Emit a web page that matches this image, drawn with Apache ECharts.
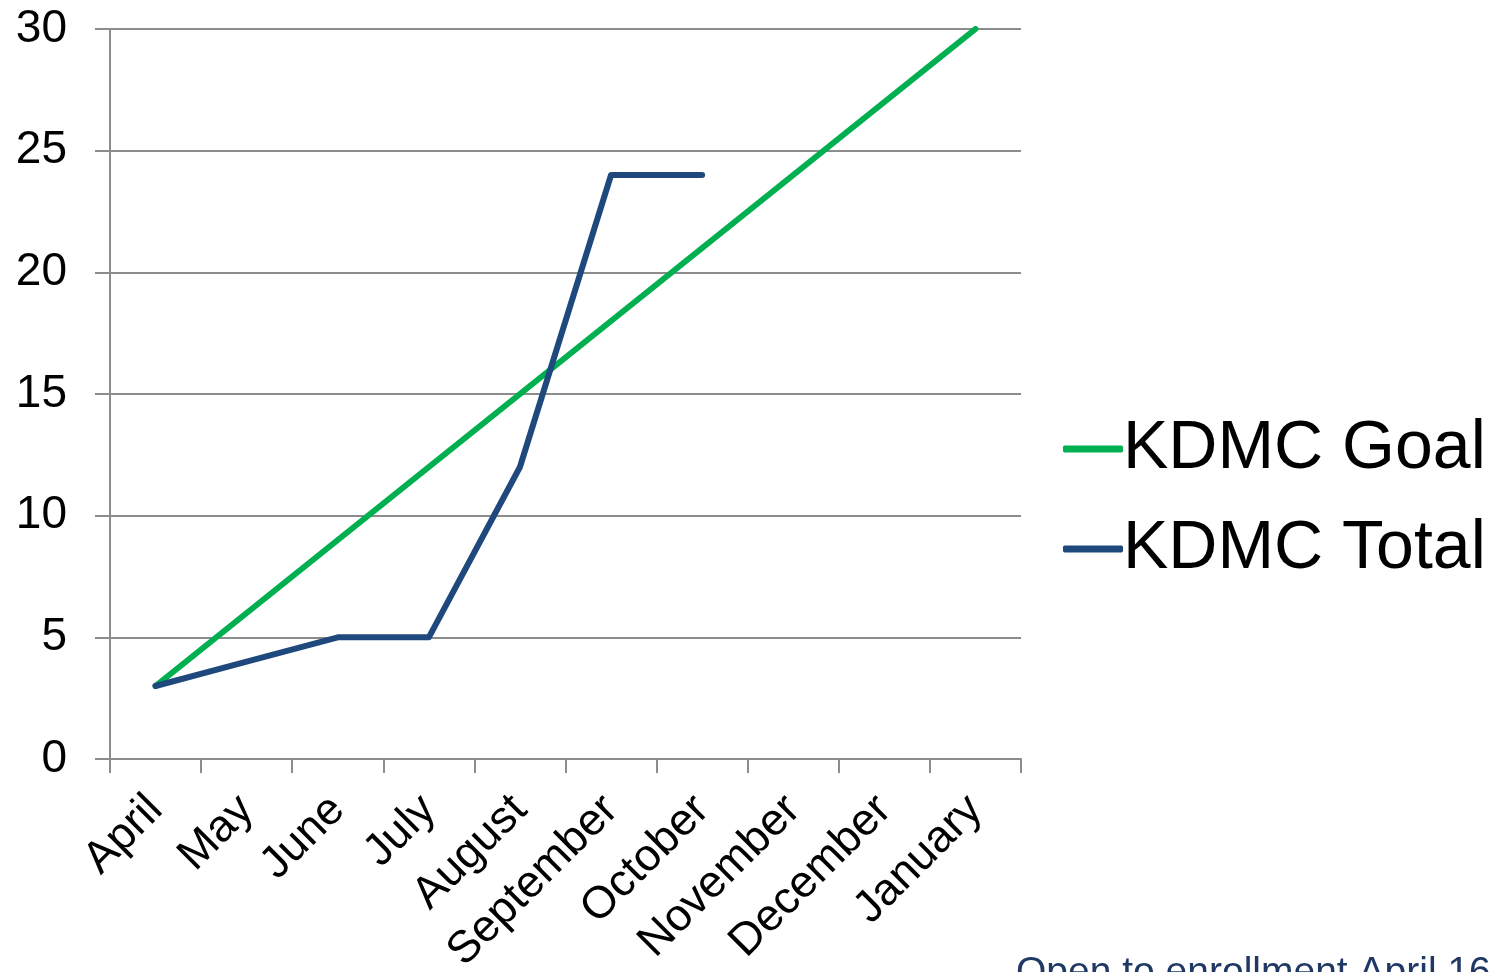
<!DOCTYPE html>
<html>
<head>
<meta charset="utf-8">
<script src="https://cdn.jsdelivr.net/npm/echarts@6/dist/echarts.min.js"></script>
<style>
  html, body { margin: 0; padding: 0; background: #ffffff; }
  #chart { width: 1500px; height: 972px; }
</style>
</head>
<body>
<div id="chart"></div>
<script>
// Monthly enrollment: goal versus running total
const months = ['April', 'May', 'June', 'July', 'August', 'September', 'October', 'November', 'December', 'January'];
const goalValues = [3, 6, 9, 12, 15, 18, 21, 24, 27, 30];
const totalValues = [3, 4, 5, 5, 12, 24, 24];
const yTicks = [0, 5, 10, 15, 20, 25, 30];

const FONT = '"Liberation Sans", Arial, sans-serif';
const chart = echarts.init(document.getElementById('chart'), null, { renderer: 'canvas' });

chart.setOption({
  backgroundColor: '#ffffff',
  animation: false,
  grid: { left: 110, right: 479, top: 29, bottom: 213, containLabel: false, outerBoundsMode: 'none' },
  legend: {
    orient: 'vertical',
    left: 1058,
    top: 410,
    itemWidth: 60,
    itemHeight: 7,
    itemGap: 32,
    icon: 'roundRect',
    textStyle: { fontFamily: FONT, fontSize: 68, color: '#000000', padding: [0, 0, 0, -5] },
    data: ['KDMC Goal', 'KDMC Total']
  },
  xAxis: {
    type: 'category',
    data: months,
    boundaryGap: true,
    axisLine: { lineStyle: { color: '#8c8c8c', width: 2 } },
    axisTick: { show: true, length: 14, lineStyle: { color: '#8c8c8c', width: 2 } },
    axisLabel: { rotate: 45, fontFamily: FONT, fontSize: 45, color: '#000000', margin: 44 },
    splitLine: { show: false }
  },
  yAxis: {
    type: 'value',
    min: yTicks[0],
    max: yTicks[yTicks.length - 1],
    interval: 5,
    axisLine: { show: true, lineStyle: { color: '#8c8c8c', width: 2 } },
    axisTick: { show: true, length: 15, lineStyle: { color: '#8c8c8c', width: 2 } },
    axisLabel: { fontFamily: FONT, fontSize: 46, color: '#000000', margin: 43 },
    splitLine: { show: true, lineStyle: { color: '#8c8c8c', width: 2 } }
  },
  series: [
    {
      name: 'KDMC Goal',
      type: 'line',
      data: goalValues,
      symbol: 'none',
      color: '#00b050',
      lineStyle: { color: '#00b050', width: 6, cap: 'round' }
    },
    {
      name: 'KDMC Total',
      type: 'line',
      data: totalValues,
      symbol: 'none',
      color: '#1f497d',
      lineStyle: { color: '#1f497d', width: 6, cap: 'round', join: 'round' }
    }
  ],
  graphic: [
    {
      type: 'text',
      left: 1016,
      top: 954,
      style: { text: 'Open to enrollment April 16', font: '39px ' + FONT, fill: '#1f3864' }
    }
  ]
});
</script>
</body>
</html>
